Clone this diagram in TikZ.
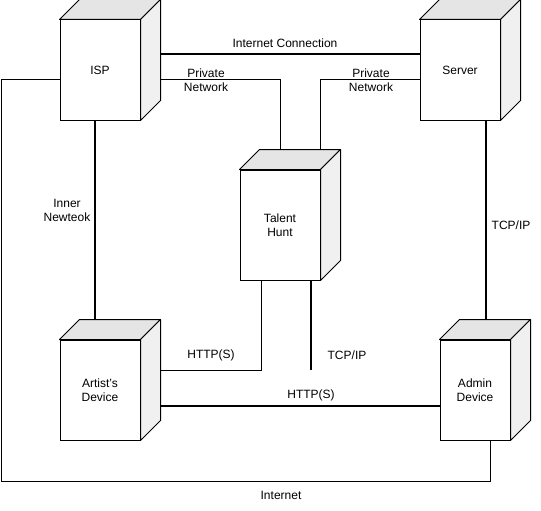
\documentclass[tikz,border=0pt]{standalone}
\usepackage{fontspec}
\setmainfont{Liberation Sans}
\begin{document}
\begin{tikzpicture}[x=1pt,y=-1pt,
  box/.style={draw=black,line width=1pt,fill=white,rectangle,inner sep=0pt,align=center,
    font=\fontsize{12}{14}\selectfont},
  lbl/.style={align=center,inner sep=0pt,font=\fontsize{12}{14}\selectfont},
  thin/.style={draw=black,line width=1pt},
  thk/.style={draw=black,line width=2pt},
  topface/.style={fill=gray!20,draw=black,line width=1pt,line join=round},
  sideface/.style={fill=gray!12,draw=black,line width=1pt,line join=round}]
\useasboundingbox (0,0) rectangle (541,511);

% nodes (front faces)
\node[box,minimum width=80pt,minimum height=100pt] (isp) at (100,70) {ISP};
\node[box,minimum width=80pt,minimum height=100pt] (server) at (460,70) {Server};
\node[box,minimum width=80pt,minimum height=110pt] (talent) at (280,225) {Talent\\Hunt};
\node[box,minimum width=80pt,minimum height=100pt] (artist) at (100,390) {Artist's\\Device};
\node[box,minimum width=70pt,minimum height=100pt] (admin) at (475,390) {Admin\\Device};

% 3D faces
\foreach \n in {isp,server,talent,artist,admin}{
  \path[topface] (\n.north west) -- ++(20pt,20pt) -- ([shift={(20pt,20pt)}]\n.north east) -- (\n.north east) -- cycle;
  \path[sideface] (\n.north east) -- ++(20pt,20pt) -- ([shift={(20pt,20pt)}]\n.south east) -- (\n.south east) -- cycle;
}

% connectors
\coordinate (cl) at (1,481);
\coordinate (tcpend) at (311,370);

\draw[thk] ([shift={(20pt,-35pt)}]isp.north east) -- ([yshift=-35pt]server.north west);
\draw[thin] ([shift={(20pt,-10pt)}]isp.east) -| ([yshift=20pt]talent.north);
\draw[thin] ([yshift=-10pt]server.west) -| ([shift={(40pt,20pt)}]talent.north);
\draw[thk] ([xshift=-5pt]isp.south) -- ([shift={(-5pt,20pt)}]artist.north);
\draw[thin] ([yshift=-10pt]isp.west) -| (cl) -| ([xshift=15pt]admin.south);
\draw[thk] ([xshift=26pt]server.south) -- ([shift={(11pt,20pt)}]admin.north);
\draw[thin] ([xshift=-19pt]talent.south) |- ([shift={(20pt,20pt)}]artist.east);
\draw[thk] ([xshift=31pt]talent.south) -- (tcpend);
\draw[thk] ([shift={(20pt,-16pt)}]artist.east) -- ([yshift=-16pt]admin.west);

% labels
\node[lbl] at (285,43) {Internet Connection};
\node[lbl] at (206,80) {Private\\Network};
\node[lbl] at (371,80) {Private\\Network};
\node[lbl] at (67,210) {Inner\\Newteok};
\node[lbl] at (511,225) {TCP/IP};
\node[lbl] at (211,355) {HTTP(S)};
\node[lbl] at (347,355) {TCP/IP};
\node[lbl] at (311,395) {HTTP(S)};
\node[lbl] at (281,495) {Internet};
\end{tikzpicture}
\end{document}
